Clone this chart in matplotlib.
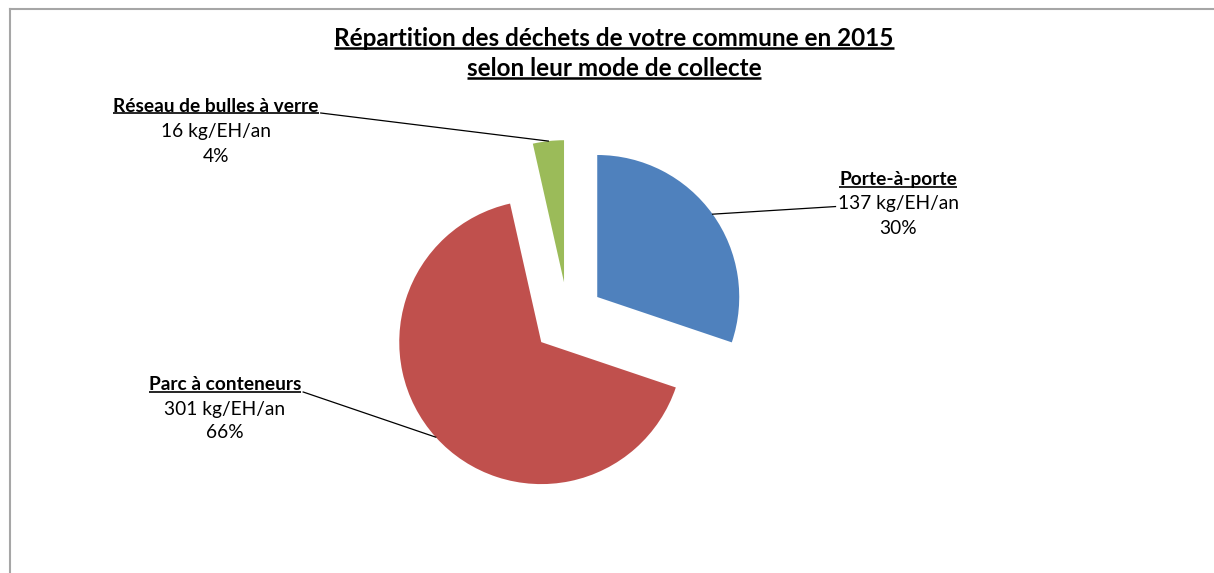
import matplotlib.pyplot as plt
from matplotlib.lines import Line2D
import numpy as np

# --------------------------------------------------------------
# Data
# --------------------------------------------------------------
title_lines = ["Répartition des déchets de votre commune en 2015",
               "selon leur mode de collecte"]
categories = ["Porte-à-porte", "Parc à conteneurs", "Réseau de bulles à verre"]
values = [137, 301, 16]          # kg/EH/an
unit = "kg/EH/an"
colors = ["#4F81BD", "#C0504D", "#9BBB59"]

# --------------------------------------------------------------
# Layout (pixels, y from top)
# --------------------------------------------------------------
W, H = 1214, 573
pie_center = (568, 318)
pie_radius = 142
explode_px = 36
# label block: centre x, y of first line, line step, where the leader attaches
label_pos = [(898, 180, 24, "left2"),
             (225, 385, 24, "under"),
             (216, 106, 25, "under")]

plt.rcParams['font.family'] = ['Lato', 'DejaVu Sans']
plt.rcParams['text.color'] = '#000000'

fig = plt.figure(figsize=(W / 100, H / 100), dpi=100)
ax = fig.add_axes([0, 0, 1, 1])


def py(y):
    return H - y


wedges, _ = ax.pie(values, colors=colors, startangle=90, counterclock=False,
                   explode=[explode_px] * len(values), radius=pie_radius,
                   center=(pie_center[0], py(pie_center[1])), frame=False,
                   wedgeprops=dict(linewidth=0))
ax.set_xlim(0, W)
ax.set_ylim(0, H)
ax.set_aspect('auto')
ax.axis('off')

# chart frame (top and left edges visible)
fig.add_artist(Line2D([10, W], [py(9), py(9)], transform=None, color='#A6A6A6', lw=1.5))
fig.add_artist(Line2D([10, 10], [py(9), 0], transform=None, color='#A6A6A6', lw=1.5))

# --------------------------------------------------------------
# Title
# --------------------------------------------------------------
title_texts = []
for i, line in enumerate(title_lines):
    t = ax.text(614, py(38 + 30 * i), line, ha='center', va='center',
                fontsize=17.5, fontweight='bold')
    title_texts.append(t)

# --------------------------------------------------------------
# Labels
# --------------------------------------------------------------
total = sum(values)
label_texts = []
for cat, val, (lx, ly, step, mode) in zip(categories, values, label_pos):
    t1 = ax.text(lx, py(ly), cat, ha='center', va='center', fontsize=13.8, fontweight='bold')
    t2 = ax.text(lx, py(ly + step), f"{val} {unit}", ha='center', va='center', fontsize=13.8)
    t3 = ax.text(lx, py(ly + 2 * step), f"{round(val / total * 100)}%", ha='center',
                 va='center', fontsize=13.8)
    label_texts.append((t1, t2, t3, mode))

fig.canvas.draw()
renderer = fig.canvas.get_renderer()
inv = ax.transData.inverted()


def underline(t, lw=1.2):
    bb = t.get_window_extent(renderer)
    (x0, y0), (x1, _) = inv.transform([(bb.x0, bb.y0), (bb.x1, bb.y1)])
    ax.plot([x0, x1], [y0 + 1.5, y0 + 1.5], color='black', lw=lw, solid_capstyle='butt')
    return x0, x1, y0 + 1.5


for t in title_texts:
    underline(t, lw=1.8)

for w, (t1, t2, t3, mode) in zip(wedges, label_texts):
    x0, x1, yu = underline(t1)
    thetam = np.deg2rad((w.theta1 + w.theta2) / 2)
    cx, cy = w.center
    ex, ey = cx + w.r * np.cos(thetam), cy + w.r * np.sin(thetam)
    if mode == "under":
        sx, sy = x1 + 2, yu
    else:
        bb = t2.get_window_extent(renderer)
        (sx, sy), = inv.transform([(bb.x0 - 2, bb.y0 + 0.35 * bb.height)])
    ax.plot([sx, ex], [sy, ey], color='black', lw=0.9)

fig.savefig("out.png", dpi=100, facecolor='white')
